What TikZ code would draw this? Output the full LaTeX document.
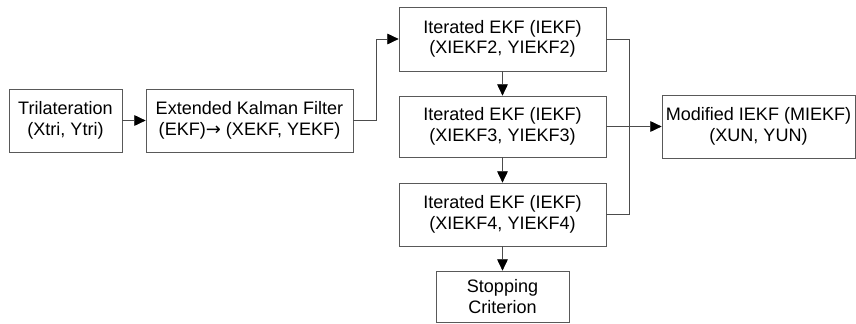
\documentclass[tikz,border=0pt]{standalone}
\usepackage{fontspec}
\setmainfont{Liberation Sans}
\newfontfamily\arrowfont{DejaVu Sans}
\usetikzlibrary{arrows.meta}

\begin{document}
\begin{tikzpicture}[
        box/.style={draw=black!65,line width=0.6pt,align=center,inner sep=2pt,
            font=\fontsize{15.4pt}{17.5pt}\selectfont},
        link/.style={draw=black!70,line width=0.6pt},
        arr/.style={link,-{Triangle[length=0.34cm,width=0.32cm,color=black]}}]
        \useasboundingbox (0,0) rectangle (25.68,-9.69);
        \node[box,minimum width=3.39cm,minimum height=1.89cm] (tri) at (1.965,-3.615) {Trilateration\\(Xtri, Ytri)};
        \node[box,minimum width=6.21cm,minimum height=1.89cm] (ekf) at (7.485,-3.615) {Extended Kalman Filter\\(EKF){\arrowfont →} (XEKF, YEKF)};
        \node[box,minimum width=6.21cm,minimum height=1.92cm] (iekf2) at (15.075,-1.17) {Iterated EKF (IEKF)\\(XIEKF2, YIEKF2)};
        \node[box,minimum width=6.21cm,minimum height=1.83cm] (iekf3) at (15.075,-3.795) {Iterated EKF (IEKF)\\(XIEKF3, YIEKF3)};
        \node[box,minimum width=6.21cm,minimum height=1.89cm] (iekf4) at (15.075,-6.435) {Iterated EKF (IEKF)\\(XIEKF4, YIEKF4)};
        \node[box,minimum width=3.99cm,minimum height=1.53cm] (stop) at (15.075,-8.895) {Stopping\\Criterion};
        \node[box,minimum width=5.79cm,minimum height=1.89cm] (miekf) at (22.755,-3.795) {Modified IEKF (MIEKF)\\(XUN, YUN)};

        \coordinate (turn) at (11.28,0);
        \coordinate (bus) at (18.87,0);

        \draw[arr] (tri) -- (ekf);
        \draw[arr] (ekf.east) -- (turn|-ekf.east) |- (iekf2.west);
        \draw[arr] (iekf2) -- (iekf3);
        \draw[arr] (iekf3) -- (iekf4);
        \draw[arr] (iekf4) -- (stop);
        \draw[link] (iekf2.east) -- (bus|-iekf2.east) -- (bus|-iekf4.east) -- (iekf4.east);
        \draw[arr] (iekf3) -- (miekf);
\end{tikzpicture}
\end{document}
